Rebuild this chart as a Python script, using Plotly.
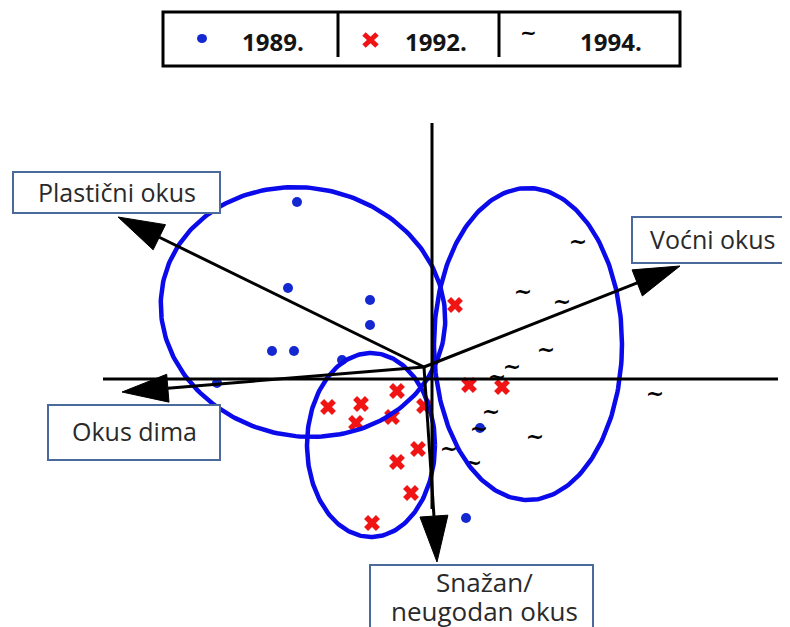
import numpy as np
import plotly.graph_objects as go

# the page body has an 8px margin, so the figure is sized to the visible area
OFF = 8
WIN_W, WIN_H = 790, 627
W, H = WIN_W - OFF, WIN_H - OFF

# ---------------- data (score units; axes cross at 0,0) ----------------
years = ["1989.", "1992.", "1994."]

x_1989 = [-1.35, -1.44, -0.62, -0.62, -1.60, -1.38, -0.90, -2.15, 0.48, 0.34]
y_1989 = [1.77, 0.91, 0.79, 0.54, 0.28, 0.28, 0.19, -0.04, -0.49, -1.39]

x_1992 = [-1.04, -0.71, -0.35, -0.76, -0.40, -0.14, -0.35, -0.21, -0.60, 0.37, 0.70, 0.23, -0.08]
y_1992 = [-0.28, -0.25, -0.12, -0.44, -0.38, -0.70, -0.83, -1.14, -1.44, -0.06, -0.08, 0.74, -0.27]

x_1994 = [1.46, 0.91, 1.30, 1.14, 0.80, 0.65, 2.23, 0.59, 0.47, 1.03, 0.17, 0.41]
y_1994 = [1.36, 0.86, 0.76, 0.28, 0.11, 0.01, -0.16, -0.34, -0.51, -0.59, -0.71, -0.85]

# group ellipses: centre x, centre y, semi-axis a, semi-axis b, rotation (deg)
ell_cx = [-1.29, 0.96, -0.61]
ell_cy = [0.67, 0.35, -0.66]
ell_a = [1.43, 0.94, 0.64]
ell_b = [1.24, 1.56, 0.92]
ell_rot = [-12, 0, 0]

# attribute loadings (arrows)
load_names = ["Plastični okus", "Voćni okus", "Okus dima", "Snažan/neugodan okus"]
load_x0, load_y0 = -0.08, 0.12
load_x = [-3.14, 2.48, -3.10, 0.05]
load_y = [1.62, 1.13, -0.13, -1.83]

# axis extents
axis_x = [-3.29, 3.46]
axis_y = [2.56, -1.30]

BLUE = "#0A0AEB"
DOT = "#1428D2"
RED = "#F01414"
BOXC = "#4A6A9C"
TXT = "#2A2A2A"

fig = go.Figure()

# points
fig.add_trace(go.Scatter(x=x_1989, y=y_1989, mode="markers", name=years[0],
                         marker=dict(symbol="circle", size=10, color=DOT), showlegend=False))
fig.add_trace(go.Scatter(x=x_1992, y=y_1992, mode="markers", name=years[1],
                         marker=dict(symbol="x", size=14, color=RED, line=dict(width=0)), showlegend=False))
fig.add_trace(go.Scatter(x=x_1994, y=y_1994, mode="text", name=years[2], text=["<b>~</b>"] * len(x_1994),
                         textposition="middle center",
                         textfont=dict(family="DejaVu Sans", size=22, color="black"), showlegend=False))

# ellipses
t = np.linspace(0, 2 * np.pi, 241)
for cx, cy, a, b, r in zip(ell_cx, ell_cy, ell_a, ell_b, ell_rot):
    th = np.deg2rad(r)
    ex = cx + a * np.cos(t) * np.cos(th) - b * np.sin(t) * np.sin(th)
    ey = cy + a * np.cos(t) * np.sin(th) + b * np.sin(t) * np.cos(th)
    fig.add_trace(go.Scatter(x=ex, y=ey, mode="lines", line=dict(color=BLUE, width=4.5),
                             hoverinfo="skip", showlegend=False))

# axes lines
fig.add_trace(go.Scatter(x=axis_x, y=[0, 0], mode="lines", line=dict(color="black", width=3),
                         hoverinfo="skip", showlegend=False))
fig.add_trace(go.Scatter(x=[0, 0], y=axis_y, mode="lines", line=dict(color="black", width=3),
                         hoverinfo="skip", showlegend=False))

# loading arrows
HL, HW = 0.46, 0.14
for lx, ly in zip(load_x, load_y):
    d = np.array([lx - load_x0, ly - load_y0])
    d = d / np.linalg.norm(d)
    n = np.array([-d[1], d[0]])
    tip = np.array([lx, ly])
    base = tip - HL * d
    fig.add_trace(go.Scatter(x=[load_x0, base[0]], y=[load_y0, base[1]], mode="lines",
                             line=dict(color="black", width=3), hoverinfo="skip", showlegend=False))
    p1 = base + HW * n
    p2 = base - HW * n
    fig.add_trace(go.Scatter(x=[tip[0], p1[0], p2[0], tip[0]], y=[tip[1], p1[1], p2[1], tip[1]],
                             mode="lines", fill="toself", fillcolor="black",
                             line=dict(color="black", width=1), hoverinfo="skip", showlegend=False))


def P(px, py):
    """window pixel -> paper fraction"""
    return (px - OFF) / W, 1 - (py - OFF) / H


shapes = []
annotations = []


def box(x0, y0, x1, y1):
    a0, b0 = P(x0, y0)
    a1, b1 = P(x1, y1)
    shapes.append(dict(type="rect", xref="paper", yref="paper", x0=a0, y0=b0, x1=a1, y1=b1,
                       line=dict(color=BOXC, width=2), fillcolor="white", layer="above"))


def label(text, cx, cy, size=25):
    a, b = P(cx, cy)
    annotations.append(dict(text=text, x=a, y=b, xref="paper", yref="paper", showarrow=False,
                            xanchor="center", yanchor="middle",
                            font=dict(family="Open Sans", size=size, color=TXT)))


box(13, 172, 220, 213)
label(load_names[0], 117, 192)
box(632, 217, 784, 263)
label(load_names[1], 712, 239)
box(48, 405, 220, 460)
label(load_names[2], 134, 431)
box(370, 565, 593, 660)
label("Snažan/", 484, 582, 26)
label("neugodan okus", 484, 611, 26)

# custom legend table
a0, b0 = P(163, 12)
a1, b1 = P(680, 66)
shapes.append(dict(type="rect", xref="paper", yref="paper", x0=a0, y0=b0, x1=a1, y1=b1,
                   line=dict(color="black", width=3), fillcolor="white"))
for dx in (338, 499):
    xa, ya = P(dx, 13)
    xb, yb = P(dx, 57)
    shapes.append(dict(type="line", xref="paper", yref="paper", x0=xa, y0=ya, x1=xb, y1=yb,
                       line=dict(color="black", width=3)))
# legend symbols
c0 = P(197, 34)
c1 = P(207, 43)
shapes.append(dict(type="circle", xref="paper", yref="paper", x0=c0[0], y0=c0[1], x1=c1[0], y1=c1[1],
                   line=dict(color=DOT, width=0), fillcolor=DOT))
for (xa, ya, xb, yb) in [(364, 34, 377, 46), (364, 46, 377, 34)]:
    pa = P(xa, ya)
    pb = P(xb, yb)
    shapes.append(dict(type="line", xref="paper", yref="paper", x0=pa[0], y0=pa[1], x1=pb[0], y1=pb[1],
                       line=dict(color=RED, width=5)))
ta = P(528, 32)
annotations.append(dict(text="<b>~</b>", x=ta[0], y=ta[1], xref="paper", yref="paper", showarrow=False,
                        xanchor="center", yanchor="middle",
                        font=dict(family="DejaVu Sans", size=20, color="black")))
for yr, cx in zip(years, [273, 436, 611]):
    a, b = P(cx, 41)
    annotations.append(dict(text="<b>" + yr + "</b>", x=a, y=b, xref="paper", yref="paper",
                            showarrow=False, xanchor="center", yanchor="middle",
                            font=dict(family="Open Sans", size=24, color="#141414")))

x_lo = (OFF - 432) / 100
x_hi = (WIN_W - 432) / 100
y_hi = (379 - OFF) / 100
y_lo = (379 - WIN_H) / 100

fig.update_layout(
    width=W, height=H, autosize=False,
    margin=dict(l=0, r=0, t=0, b=0),
    paper_bgcolor="white", plot_bgcolor="white",
    xaxis=dict(range=[x_lo, x_hi], visible=False, fixedrange=True),
    yaxis=dict(range=[y_lo, y_hi], visible=False, fixedrange=True),
    shapes=shapes, annotations=annotations, showlegend=False,
)

fig.write_html("out.html")
